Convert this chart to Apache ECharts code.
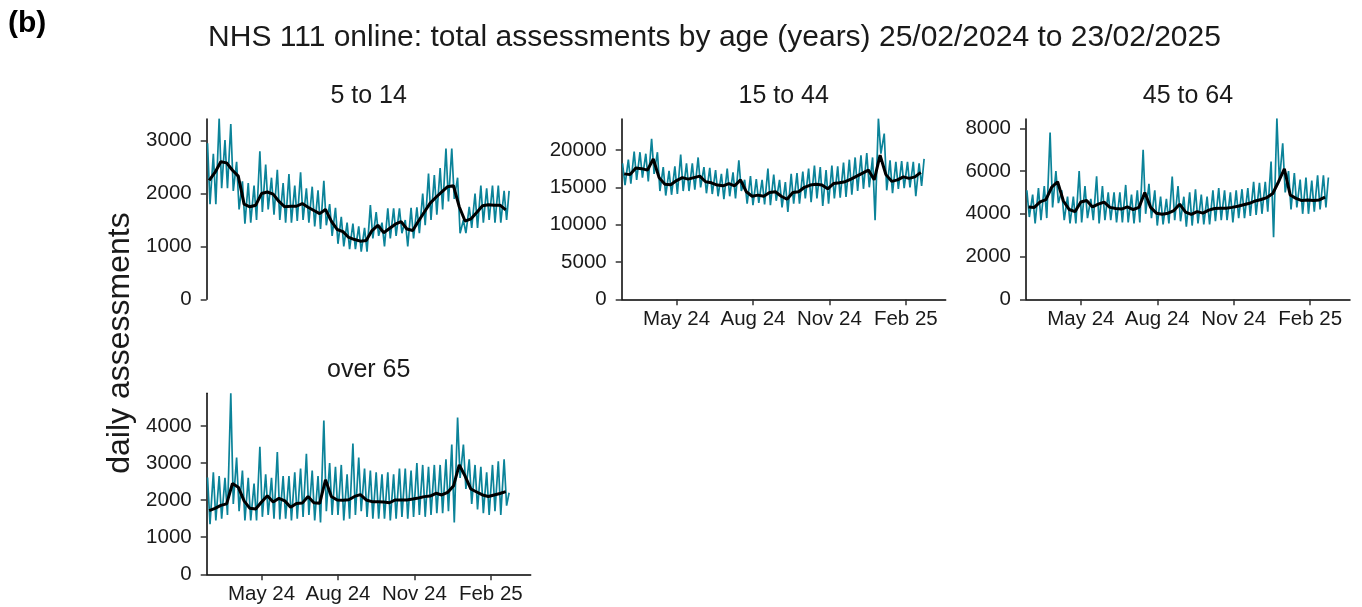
<!DOCTYPE html>
<html><head><meta charset="utf-8">
<script src="https://cdn.jsdelivr.net/npm/echarts@6/dist/echarts.min.js"></script>
<style>html,body{margin:0;padding:0;background:#fff}#c{width:1362px;height:607px}</style>
</head><body><div id="c"></div>
<script>
// ---------- data ----------
const startDate = '2024-02-25';   // first day of the daily series (Sunday)
const lastDate = '2025-02-23';
const xEndDate = '2025-03-21';
const panelTitles = ['5 to 14', '15 to 44', '45 to 64', 'over 65'];
const yMax = [3410, 24150, 8435, 4882];
const yTicks0 = [0, 1000, 2000, 3000];
const yTicks1 = [0, 5000, 10000, 15000, 20000];
const yTicks2 = [0, 2000, 4000, 6000, 8000];
const yTicks3 = [0, 1000, 2000, 3000, 4000];
const xTickDates = ['2024-05-01', '2024-08-01', '2024-11-01', '2025-02-01'];
const xTickLabels = ['May 24', 'Aug 24', 'Nov 24', 'Feb 25'];

// weekly peak / trough of the daily counts, and weekly smoothed level (52 weeks)
const hi514 = [2950,2750,3420,3010,3315,2600,2230,2200,2150,2800,2550,2300,2450,2200,2370,2150,2400,2100,2130,2060,2240,1800,1730,1560,1450,1430,1380,1350,1780,1650,1450,1720,1720,1720,1500,1730,1740,2000,2380,2350,2480,2850,2850,2300,1500,1750,2000,2150,2100,2150,2150,2050];
const lo514 = [1800,1800,2100,2100,2050,1700,1430,1450,1500,1650,1700,1600,1500,1450,1450,1480,1500,1450,1380,1330,1400,1200,1050,1000,950,950,900,900,1150,1200,1000,1150,1200,1250,1000,1150,1250,1400,1500,1600,1700,1850,1900,1250,1250,1350,1350,1450,1500,1450,1450,1500];
const avg514 = [2250,2400,2600,2580,2440,2330,1800,1750,1780,2000,2030,1990,1850,1750,1760,1760,1810,1740,1680,1620,1700,1480,1320,1280,1170,1130,1100,1110,1300,1400,1260,1340,1420,1470,1330,1300,1480,1650,1820,1930,2030,2130,2150,1750,1480,1520,1640,1770,1790,1780,1780,1690];

const hi1544 = [18200,18700,19800,19700,19500,21500,19700,17700,17200,17800,19400,18200,18200,19000,17700,17600,17300,16800,17500,17000,18600,16000,16500,16100,16000,17500,16700,16000,15700,16800,16900,17100,17500,17900,17700,17300,17900,17800,18300,18700,19000,19300,19600,19000,24200,22200,18600,18400,18500,18400,18400,18200];
const lo1544 = [15300,15500,16000,16300,15800,16800,14500,13900,14000,14100,14500,14500,14700,15000,14200,14100,13800,13400,13800,13500,14500,12800,12600,12900,12700,12600,13200,12300,11700,12800,12800,13500,13000,13500,12500,12800,13500,13600,13700,14000,14500,14800,15000,10600,19500,14600,14200,14800,14900,15000,13800,15200];
const avg1544 = [16800,16700,17600,17500,17300,18800,16300,15400,15350,15900,16300,16100,16300,16500,15750,15600,15300,15200,15500,15200,16000,14400,13800,13950,13800,14300,14400,13800,13400,14300,14400,15000,15300,15400,15300,14800,15500,15600,15750,16100,16500,16900,17300,16000,19300,16700,15800,16000,16400,16200,16400,17000];

const hi4564 = [5100,4900,5200,5300,7800,6000,5100,4800,4800,6000,5300,4700,5750,5300,5000,5000,5000,5350,4900,5100,7000,5400,5100,4800,4700,5740,5300,4800,5000,5150,4900,4800,5100,5200,5100,5000,5100,5150,5200,5500,5450,5500,6440,8470,7300,6000,5900,5600,5700,5550,5800,5800];
const lo4564 = [3850,3550,3700,3800,4300,4500,3700,3550,3550,3600,3800,3700,3550,3700,3700,3600,3600,3600,3550,3600,4000,3800,3450,3500,3550,3700,3650,3400,3450,3550,3500,3500,3650,3700,3700,3600,3800,3800,3900,3950,4000,4100,2900,5500,5000,4200,4300,4000,4000,4100,4200,4300];
const avg4564 = [4320,4300,4560,4660,5250,5500,4600,4200,4100,4550,4620,4320,4450,4550,4300,4250,4220,4320,4200,4300,5000,4300,4030,3980,4030,4150,4450,4080,3970,4100,4030,4170,4250,4260,4260,4300,4350,4420,4490,4600,4670,4760,4950,5500,6100,4880,4720,4620,4640,4620,4650,4780];

const hi65 = [2610,2750,2650,2600,4880,3150,2800,2600,2450,3440,2700,2600,3300,2650,2650,2750,2850,3250,2800,2650,4150,3000,2900,2950,2700,3530,3150,2850,2800,2750,2700,2750,2700,2850,2850,2800,3000,2950,2900,2950,2950,3100,3500,4230,3500,3100,2950,2900,2750,2950,3050,3100];
const lo65 = [1350,1450,1500,1600,1900,1700,1450,1450,1450,1550,1600,1500,1480,1500,1450,1500,1550,1600,1450,1400,1700,1600,1600,1450,1500,1600,1700,1550,1500,1500,1500,1450,1500,1550,1500,1550,1600,1550,1600,1650,1650,1700,1400,2600,2300,1900,1750,1650,1600,1700,1600,1850];
const avg65 = [1720,1780,1860,1900,2450,2350,1980,1780,1760,1950,2120,1950,2050,1980,1810,1910,1920,2100,1930,1915,2550,2100,2005,1995,2010,2100,2150,2005,1960,1960,1950,1930,2005,2005,2005,2030,2060,2095,2110,2185,2140,2210,2380,2950,2650,2300,2220,2140,2100,2140,2180,2230];

const lastDay = [2050, 18800, 5700, 2200];   // value on the final day (23/02/2025)

// ---------- build ----------
const DAY = 86400000;
const ts = s => Date.parse(s + 'T00:00:00Z');
const t0 = ts(startDate);
const tLast = ts(lastDate);
const HI = [hi514, hi1544, hi4564, hi65];
const LO = [lo514, lo1544, lo4564, lo65];
const AVG = [avg514, avg1544, avg4564, avg65];
const YT = [yTicks0, yTicks1, yTicks2, yTicks3];
const xTickTs = xTickDates.map(ts);

const FONT = "'Liberation Sans', Arial, Helvetica, sans-serif";
const TEAL = '#0b8399';
const grids = [
  {left: 206.7, top: 119, width: 324, height: 180.3},
  {left: 621.7, top: 119, width: 324, height: 180.3},
  {left: 1026, top: 119, width: 324, height: 180.3},
  {left: 206.7, top: 393.3, width: 324, height: 181}
].map(g => Object.assign({containLabel: false, outerBoundsMode: 'none'}, g));

const xAxes = [], yAxes = [], series = [];
for (let i = 0; i < 4; i++) {
  const showX = i !== 0;
  xAxes.push({
    type: 'value', gridIndex: i, min: t0, max: ts(xEndDate), scale: true,
    axisLine: {show: showX, onZero: false, lineStyle: {color: '#000', width: 1.5}},
    axisTick: {show: showX, length: 6, lineStyle: {color: '#333', width: 1.5}, customValues: xTickTs},
    axisLabel: {show: showX, customValues: xTickTs, margin: 10, fontSize: 20.5, color: '#1a1a1a', fontFamily: FONT,
      formatter: v => { const k = xTickTs.indexOf(v); return k >= 0 ? xTickLabels[k] : ''; }},
    splitLine: {show: false}
  });
  yAxes.push({
    type: 'value', gridIndex: i, min: 0, max: yMax[i],
    axisLine: {show: true, lineStyle: {color: '#000', width: 1.5}},
    axisTick: {show: true, length: 6, lineStyle: {color: '#333', width: 1.5}, customValues: YT[i]},
    axisLabel: {customValues: YT[i], margin: 15, fontSize: 20.5, color: '#1a1a1a', fontFamily: FONT,
      formatter: v => String(v)},
    splitLine: {show: false}
  });
  const daily = [];
  for (let w = 0; w < HI[i].length; w++) {
    daily.push([t0 + (7 * w + 1) * DAY, HI[i][w]]);
    daily.push([t0 + (7 * w + 4) * DAY, LO[i][w]]);
  }
  daily.push([tLast, lastDay[i]]);
  const smooth = AVG[i].map((v, w) => [t0 + (7 * w + 3) * DAY, v]);
  series.push({type: 'line', xAxisIndex: i, yAxisIndex: i, data: daily, showSymbol: false, symbol: 'none',
    lineStyle: {color: TEAL, width: 1.7}, z: 2});
  series.push({type: 'line', xAxisIndex: i, yAxisIndex: i, data: smooth, showSymbol: false, symbol: 'none',
    lineStyle: {color: '#000', width: 3}, z: 3});
}

const txt = (text, x, y, size, extra) => Object.assign({
  type: 'text', x, y,
  style: {text, font: size + 'px ' + FONT, fill: '#1a1a1a', textAlign: 'center', textVerticalAlign: 'middle'}
}, extra || {});

const graphic = [
  {type: 'text', x: 8, y: 24, style: {text: '(b)', font: 'bold 30px ' + FONT, fill: '#000', textAlign: 'left', textVerticalAlign: 'middle'}},
  txt('NHS 111 online: total assessments by age (years) 25/02/2024 to 23/02/2025', 714.5, 38, 30),
  txt(panelTitles[0], 368.7, 96, 25),
  txt(panelTitles[1], 783.7, 96, 25),
  txt(panelTitles[2], 1188, 96, 25),
  txt(panelTitles[3], 368.7, 370, 25),
  txt('daily assessments', 120, 343, 32, {rotation: Math.PI / 2})
];

const chart = echarts.init(document.getElementById('c'), null, {renderer: 'canvas'});
chart.setOption({
  animation: false,
  backgroundColor: '#fff',
  textStyle: {fontFamily: FONT},
  grid: grids, xAxis: xAxes, yAxis: yAxes, series, graphic
});
</script></body></html>
